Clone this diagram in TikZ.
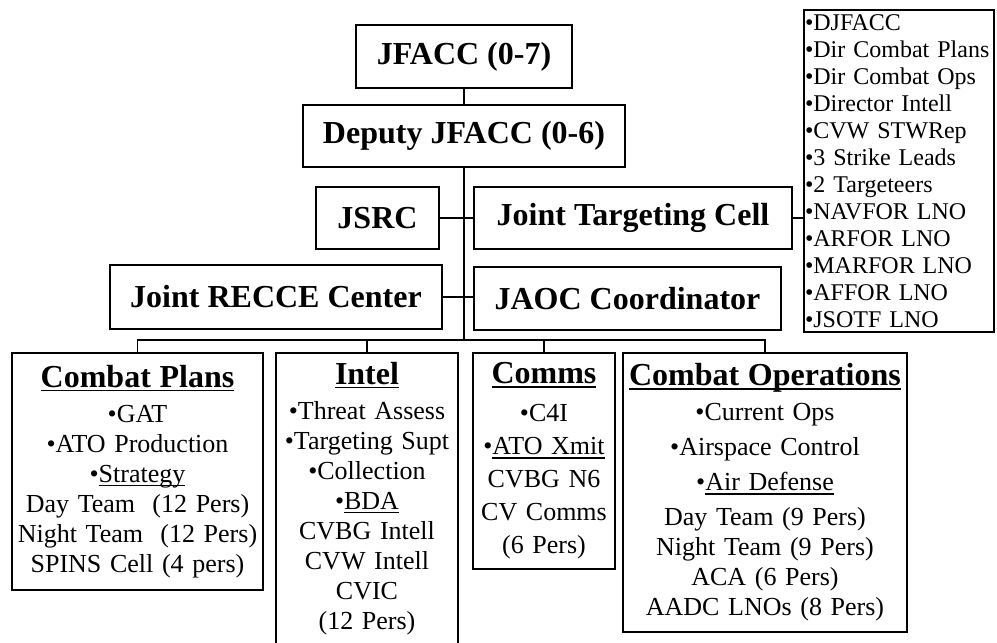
\documentclass[tikz,border=0pt]{standalone}
\usepackage{fontspec}
\setmainfont{Liberation Serif}
\usepackage{tikz}
\tikzset{
        x=1pt, y=-1pt, % one unit is one pixel of the chart, y runs down
        unit/.style={draw, line width=2pt, inner sep=0pt, font=\bfseries\fontsize{32}{36}\selectfont}, % boxes of the command chain
        sect/.style={draw, line width=2pt, anchor=north, inner xsep=4pt, inner ysep=9pt, align=center, font=\fontsize{26}{30}\selectfont}, % the four cells at the bottom
        roster/.style={draw, line width=2pt, anchor=north west, inner xsep=1pt, inner ysep=0pt, align=left, font=\fontsize{24}{27}\selectfont}, % staff list on the right
    }
\newcommand{\undl}[1]{\setbox0\hbox{#1}\rlap{\usebox0}\rule[-4pt]{\wd0}{1.6pt}}
\newcommand{\sectitle}[1]{{\bfseries\fontsize{32}{34}\selectfont\undl{#1}\par}\vspace{5pt}}

\begin{document}
\begin{tikzpicture}[line width=1.8pt]
    \useasboundingbox (0,0) rectangle (997,643);
    \node[unit, minimum width=216pt, minimum height=63pt] (jfacc) at (464,56.5) {JFACC (0-7)};
    \node[unit, minimum width=322pt, minimum height=62pt] (deputy) at (464,136) {Deputy JFACC (0-6)};
    \node[unit, minimum width=123pt, minimum height=62pt] (jsrc) at (377.5,218) {JSRC};
    \node[unit, minimum width=318pt, minimum height=62pt] (jtc) at (633,218) {Joint Targeting Cell};
    \node[unit, minimum width=332pt, minimum height=64pt] (recce) at (276,297) {Joint RECCE Center};
    \node[unit, minimum width=307pt, minimum height=63pt] (jaoc) at (627.5,298.5) {JAOC Coordinator};
    \node[roster, text width=188pt, minimum height=322pt] (staff) at (803,9)
      {•DJFACC\\ •Dir Combat Plans\\ •Dir Combat Ops\\ •Director Intell\\ •CVW STWRep\\ •3 Strike Leads\\
       •2 Targeteers\\ •NAVFOR LNO\\ •ARFOR LNO\\ •MARFOR LNO\\ •AFFOR LNO\\ •JSOTF LNO};
    \node[sect, text width=243pt, minimum height=237pt] (plans) at (137.5,352)
      {\sectitle{Combat Plans}•GAT\\ •ATO Production\\ •\undl{Strategy}\\ Day Team\ \ (12 Pers)\\
       Night Team\ \ (12 Pers)\\ SPINS Cell (4 pers)};
    \node[sect, text width=174pt, minimum height=290pt] (intel) at (367,352)
      {\sectitle{Intel}•Threat Assess\\ •Targeting Supt\\ •Collection\\ •\undl{BDA}\\
       CVBG Intell\\ CVW Intell\\ CVIC\\ (12 Pers)};
    \node[sect, text width=134pt, minimum height=216pt, font=\fontsize{26}{33}\selectfont] (comms) at (544,352)
      {\sectitle{Comms}•C4I\\ •\undl{ATO Xmit}\\ CVBG N6\\ CV Comms\\ (6 Pers)};
    \node[sect, text width=276pt, minimum height=279pt] (ops) at (765,352)
      {\sectitle{Combat Operations}•Current Ops\\[5pt] •Airspace Control\\[5pt] •\undl{Air Defense}\\[5pt]
       Day Team (9 Pers)\\ Night Team (9 Pers)\\ ACA (6 Pers)\\ AADC LNOs (8 Pers)};
    \draw (jfacc) -- (deputy);
    \draw (deputy.south) -- ++(0,172) coordinate (hub);
    \draw (jsrc) -- (jtc);
    \draw (recce.east) -- (recce.east -| jaoc.west);
    \draw (jtc.east) -- (jtc.east -| staff.west);
    \draw (plans.north) |- (hub) -| (ops.north);
    \draw (intel.north) -- (intel.north |- hub);
    \draw (comms.north) -- (comms.north |- hub);
\end{tikzpicture}
\end{document}
